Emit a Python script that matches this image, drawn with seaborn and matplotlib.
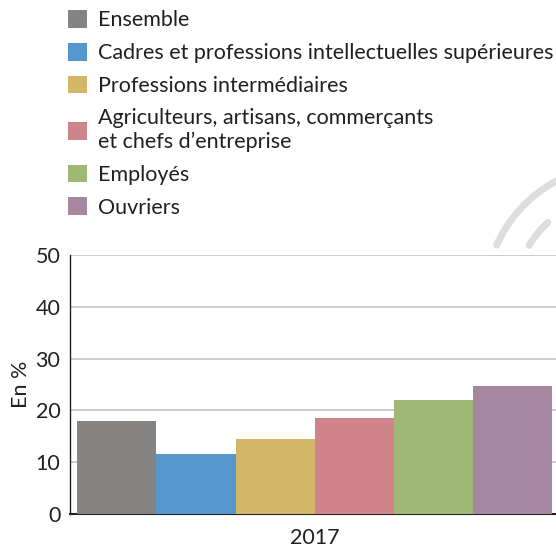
import matplotlib
matplotlib.use("Agg")
import matplotlib.pyplot as plt
from matplotlib.patches import Arc, Patch
import seaborn as sns
import pandas as pd

categories = [
    "Ensemble",
    "Cadres et professions intellectuelles supérieures",
    "Professions intermédiaires",
    "Agriculteurs, artisans, commerçants\net chefs d\u2019entreprise",
    "Employés",
    "Ouvriers",
]
values = [18.0, 11.6, 14.5, 18.5, 22.0, 24.7]
years = ["2017"] * len(categories)
colors = ["#858482", "#5598ce", "#d3b668", "#ce848a", "#a0b876", "#a786a0"]

df = pd.DataFrame({"year": years, "cat": categories, "value": values})

sns.set_style("white")
plt.rcParams["font.family"] = ["Lato", "DejaVu Sans"]
text_color = "#231f20"

fig = plt.figure(figsize=(5.56, 5.47), dpi=100)
ax = fig.add_axes([0.126, 0.0603, 0.8795, 0.4735])

sns.barplot(data=df, x="year", y="value", hue="cat", palette=colors,
            hue_order=categories, width=0.97, linewidth=0, saturation=1,
            ax=ax, legend=False, zorder=3)

ax.set_ylim(0, 50)
ax.set_yticks([0, 10, 20, 30, 40, 50])
ax.yaxis.grid(True, color="#c4c4c4", linewidth=1.2, zorder=0)
ax.set_axisbelow(True)
for s in ["top", "right"]:
    ax.spines[s].set_visible(False)
ax.spines["left"].set_color(text_color)
ax.spines["bottom"].set_color(text_color)
ax.spines["left"].set_linewidth(1.0)
ax.spines["bottom"].set_linewidth(1.5)
ax.tick_params(axis="y", labelsize=15.5, colors=text_color, length=0, pad=7)
ax.tick_params(axis="x", labelsize=15.5, colors=text_color, length=0, pad=10)
ax.set_xlabel("")
ax.set_ylabel("En %", fontsize=15.5, color=text_color, labelpad=3)

# decorative logo arcs in the background (display coords)
for r, t1, t2 in [(135, 55, 156), (106, 133, 149)]:
    arc = Arc((620, 247), 2 * r, 2 * r, theta1=t1, theta2=t2,
              transform=None, color="#dddddd", linewidth=5,
              capstyle="round", zorder=0)
    fig.patches.append(arc)

handles = [Patch(facecolor=c, edgecolor="none") for c in colors]
fig.legend(handles, categories, loc="upper left",
           bbox_to_anchor=(0.122, 0.982), frameon=False, fontsize=15.5,
           handlelength=0.9, handleheight=0.9, handletextpad=0.5,
           labelspacing=0.58, labelcolor=text_color, borderaxespad=0,
           borderpad=0)

fig.savefig("out.png", dpi=100)
